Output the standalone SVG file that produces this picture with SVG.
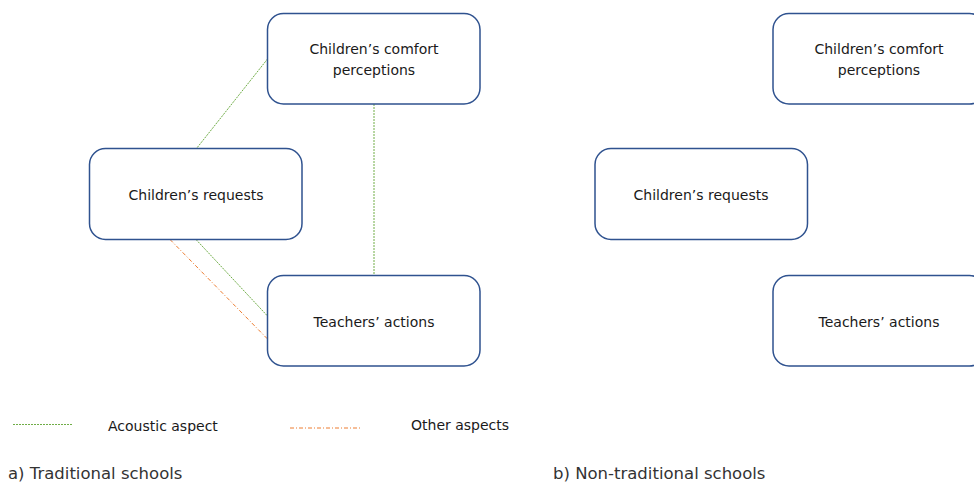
<svg xmlns="http://www.w3.org/2000/svg" width="974" height="484" viewBox="0 0 974 484">
<style>
.box{fill:#fff;stroke:#2F528F;stroke-width:1.5}
.t{font-family:"DejaVu Sans","Noto Sans",sans-serif;font-size:14px;fill:#1a1a1a;text-anchor:middle}
.lg{font-family:"DejaVu Sans","Noto Sans",sans-serif;font-size:14px;fill:#1a1a1a}
.cap{font-family:"DejaVu Sans","Noto Sans",sans-serif;font-size:16.5px;fill:#333}
.ac{stroke:#70AD47;stroke-width:1;stroke-dasharray:2 1;fill:none}
.ot{stroke:#ED7D31;stroke-width:1;stroke-dasharray:4 2 1 2;fill:none}
</style>
<rect width="974" height="484" fill="#fff"/>
<g id="connectors">
<line class="ac" x1="267.5" y1="59" x2="196.5" y2="148.5"/>
<line class="ac" x1="374" y1="104" x2="374" y2="275.5"/>
<line class="ac" x1="196" y1="239.5" x2="267.5" y2="316"/>
<line class="ot" x1="170" y1="239.5" x2="267.5" y2="339"/>
</g>
<g id="a-comfort"><rect class="box" x="267.5" y="13.5" width="212.5" height="90.5" rx="16"/><text class="t" x="374" y="54">Children’s comfort</text><text class="t" x="374" y="75">perceptions</text></g>
<g id="a-requests"><rect class="box" x="89.5" y="148.5" width="212.5" height="91" rx="16"/><text class="t" x="196" y="200">Children’s requests</text></g>
<g id="a-teachers"><rect class="box" x="267.5" y="275.5" width="212.5" height="90.5" rx="16"/><text class="t" x="374" y="327">Teachers’ actions</text></g>
<g id="b-comfort"><rect class="box" x="773" y="13.5" width="212.5" height="90.5" rx="16"/><text class="t" x="879" y="54">Children’s comfort</text><text class="t" x="879" y="75">perceptions</text></g>
<g id="b-requests"><rect class="box" x="595" y="148.5" width="212.5" height="91" rx="16"/><text class="t" x="701" y="200">Children’s requests</text></g>
<g id="b-teachers"><rect class="box" x="773" y="275.5" width="212.5" height="90.5" rx="16"/><text class="t" x="879" y="327">Teachers’ actions</text></g>
<g id="legend">
<line class="ac" x1="13" y1="424.5" x2="73" y2="424.5"/>
<text class="lg" x="108" y="431">Acoustic aspect</text>
<line class="ot" x1="290" y1="428" x2="362" y2="428"/>
<text class="lg" x="411" y="430">Other aspects</text>
</g>
<text class="cap" x="8" y="479">a) Traditional schools</text>
<text class="cap" x="553" y="479">b) Non-traditional schools</text>
</svg>
